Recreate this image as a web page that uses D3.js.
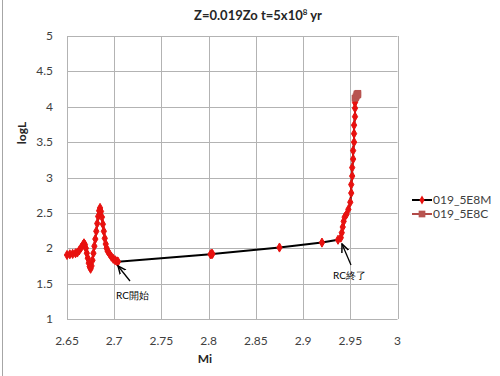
<!DOCTYPE html>
<html>
<head>
    <title>Z=0.019Zo t=5x10^8 yr</title>
    <style>
        body { margin: 0; background: #fff; }
        svg { font-family: Lato, "Open Sans", sans-serif; }
    </style>
    <script src="https://d3js.org/d3.v7.min.js"></script>
</head>
<body>
    <div id="chart"></div>
    <script>
        // series 019_5E8M : [Mi, logL]
        var seriesM = [
            [2.650, 1.905], [2.653, 1.915], [2.656, 1.92], [2.659, 1.93], [2.661, 1.94],
            [2.663, 1.97], [2.665, 2.01], [2.667, 2.05], [2.668, 2.07], [2.669, 2.05],
            [2.670, 2.00], [2.671, 1.93], [2.672, 1.86], [2.673, 1.79], [2.674, 1.74],
            [2.675, 1.71], [2.676, 1.75], [2.677, 1.83], [2.678, 1.93], [2.679, 2.03],
            [2.680, 2.13], [2.681, 2.24], [2.682, 2.35], [2.683, 2.45], [2.684, 2.53],
            [2.685, 2.57], [2.686, 2.52], [2.687, 2.44], [2.688, 2.34], [2.689, 2.24],
            [2.690, 2.14], [2.691, 2.06], [2.692, 2.00], [2.693, 1.96], [2.695, 1.92],
            [2.697, 1.88], [2.699, 1.85], [2.701, 1.83], [2.703, 1.815], [2.704, 1.81],
            [2.802, 1.915], [2.803, 1.92], [2.804, 1.92], [2.875, 2.01], [2.920, 2.08],
            [2.937, 2.12], [2.940, 2.15], [2.941, 2.22], [2.942, 2.30], [2.943, 2.38],
            [2.944, 2.44], [2.946, 2.48], [2.948, 2.55], [2.950, 2.65], [2.951, 2.78],
            [2.951, 2.90], [2.952, 3.02], [2.952, 3.14], [2.953, 3.26], [2.953, 3.38],
            [2.954, 3.50], [2.954, 3.62], [2.954, 3.74], [2.955, 3.86], [2.955, 3.98],
            [2.955, 4.06], [2.956, 4.10]
        ];
        // series 019_5E8C : [Mi, logL]
        var seriesC = [
            [2.955, 4.12], [2.956, 4.14], [2.957, 4.16], [2.957, 4.18], [2.958, 4.19], [2.958, 4.17]
        ];
        var xTicks = [2.65, 2.7, 2.75, 2.8, 2.85, 2.9, 2.95, 3];
        var yTicks = [1, 1.5, 2, 2.5, 3, 3.5, 4, 4.5, 5];
        var legendNames = ["019_5E8M", "019_5E8C"];

        var width = 500, height = 376;
        var plot = {left: 67, right: 397.5, top: 36, bottom: 319};

        var svg = d3.select("#chart").append("svg")
            .attr("width", width)
            .attr("height", height);

        var x = d3.scaleLinear().domain([2.65, 3]).range([plot.left, plot.right]);
        var y = d3.scaleLinear().domain([1, 5]).range([plot.bottom, plot.top]);

        // outer frame line on the left
        svg.append("line")
            .attr("x1", 2.5).attr("x2", 2.5)
            .attr("y1", 0).attr("y2", height)
            .attr("stroke", "#a6a6a6").attr("stroke-width", 1);

        // gridlines
        svg.append("g").selectAll("line")
            .data(xTicks)
            .enter().append("line")
            .attr("x1", function(d) { return Math.round(x(d)) + 0.5; })
            .attr("x2", function(d) { return Math.round(x(d)) + 0.5; })
            .attr("y1", plot.top).attr("y2", plot.bottom)
            .attr("stroke", "#b3b3b3");

        svg.append("g").selectAll("line")
            .data(yTicks)
            .enter().append("line")
            .attr("y1", function(d) { return Math.round(y(d)) + 0.5; })
            .attr("y2", function(d) { return Math.round(y(d)) + 0.5; })
            .attr("x1", plot.left).attr("x2", plot.right)
            .attr("stroke", "#b3b3b3");

        // tick labels
        svg.append("g").selectAll("text")
            .data(xTicks)
            .enter().append("text")
            .attr("x", function(d) { return x(d); })
            .attr("y", 345)
            .attr("text-anchor", "middle")
            .attr("font-size", 12)
            .attr("fill", "#404040")
            .text(function(d) { return d; });

        svg.append("g").selectAll("text")
            .data(yTicks)
            .enter().append("text")
            .attr("x", 53)
            .attr("y", function(d) { return y(d) + 4; })
            .attr("text-anchor", "end")
            .attr("font-size", 12)
            .attr("fill", "#404040")
            .text(function(d) { return d; });

        // titles
        var title = svg.append("text")
            .attr("x", 258).attr("y", 20)
            .attr("text-anchor", "middle")
            .attr("font-size", 13)
            .attr("font-weight", "bold")
            .attr("fill", "#262626")
            .text("Z=0.019Zo t=5x10");
        title.append("tspan")
            .attr("dy", -5)
            .attr("font-size", 8)
            .text("8");
        title.append("tspan")
            .attr("dy", 5)
            .text(" yr");

        svg.append("text")
            .attr("x", 205).attr("y", 363)
            .attr("text-anchor", "middle")
            .attr("font-size", 12)
            .attr("font-weight", "bold")
            .attr("fill", "#262626")
            .text("Mi");

        svg.append("text")
            .attr("transform", "translate(26,133) rotate(-90)")
            .attr("text-anchor", "middle")
            .attr("font-size", 12)
            .attr("font-weight", "bold")
            .attr("fill", "#262626")
            .text("logL");

        // series lines
        var line = d3.line()
            .x(function(d) { return x(d[0]); })
            .y(function(d) { return y(d[1]); });

        var clip = svg.append("clipPath").attr("id", "clip")
            .append("rect")
            .attr("x", plot.left).attr("y", plot.top)
            .attr("width", plot.right - plot.left).attr("height", plot.bottom - plot.top);

        var g = svg.append("g").attr("clip-path", "url(#clip)");

        g.append("path")
            .datum(seriesM)
            .attr("d", line)
            .attr("fill", "none")
            .attr("stroke", "#000")
            .attr("stroke-width", 2);

        g.append("path")
            .datum(seriesC)
            .attr("d", line)
            .attr("fill", "none")
            .attr("stroke", "#b14a48")
            .attr("stroke-width", 2);

        var diamond = d3.symbol().type(d3.symbolDiamond).size(24);
        var square = d3.symbol().type(d3.symbolSquare).size(45);

        svg.append("g").selectAll("path")
            .data(seriesM)
            .enter().append("path")
            .attr("d", diamond)
            .attr("transform", function(d) { return "translate(" + x(d[0]) + "," + y(d[1]) + ")"; })
            .attr("fill", "#e8110f")
            .attr("stroke", "#e8110f")
            .attr("stroke-width", 1);

        svg.append("g").selectAll("path")
            .data(seriesC)
            .enter().append("path")
            .attr("d", square)
            .attr("transform", function(d) { return "translate(" + x(d[0]) + "," + y(d[1]) + ")"; })
            .attr("fill", "#b85450");

        // annotations
        var defs = svg.append("defs");
        defs.append("marker")
            .attr("id", "arrow")
            .attr("viewBox", "0 0 10 10")
            .attr("refX", 9).attr("refY", 5)
            .attr("markerWidth", 7).attr("markerHeight", 7)
            .attr("orient", "auto")
            .append("path")
            .attr("d", "M0,1 L9,5 L0,9")
            .attr("fill", "none")
            .attr("stroke", "#000")
            .attr("stroke-width", 1.6);

        svg.append("line")
            .attr("x1", 130).attr("y1", 281)
            .attr("x2", 118).attr("y2", 266)
            .attr("stroke", "#000").attr("stroke-width", 1.3)
            .attr("marker-end", "url(#arrow)");

        svg.append("text")
            .attr("x", 116).attr("y", 299)
            .attr("font-size", 10)
            .attr("fill", "#000")
            .text("RC開始");

        svg.append("line")
            .attr("x1", 351).attr("y1", 265)
            .attr("x2", 342).attr("y2", 244)
            .attr("stroke", "#000").attr("stroke-width", 1.3)
            .attr("marker-end", "url(#arrow)");

        svg.append("text")
            .attr("x", 333).attr("y", 279)
            .attr("font-size", 10)
            .attr("fill", "#000")
            .text("RC終了");

        // legend
        var legend = svg.append("g").selectAll("g")
            .data(legendNames)
            .enter().append("g")
            .attr("transform", function(d, i) { return "translate(412," + (200 + i * 14) + ")"; });

        legend.append("line")
            .attr("x1", 0).attr("x2", 20)
            .attr("stroke", function(d, i) { return i === 0 ? "#000" : "#b14a48"; })
            .attr("stroke-width", 2);

        legend.append("path")
            .attr("d", function(d, i) { return i === 0 ? diamond() : square(); })
            .attr("transform", "translate(10,0)")
            .attr("fill", function(d, i) { return i === 0 ? "#e8110f" : "#b85450"; });

        legend.append("text")
            .attr("x", 21).attr("y", 4)
            .attr("font-size", 12)
            .attr("fill", "#404040")
            .text(function(d) { return d; });
    </script>
</body>
</html>
